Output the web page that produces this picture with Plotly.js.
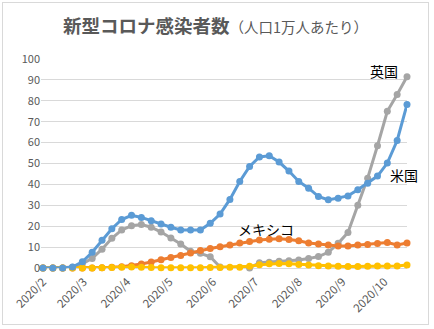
<!DOCTYPE html>
<html><head><meta charset="utf-8">
<script src="https://cdn.plot.ly/plotly-3.0.1.min.js"></script>
<style>
html,body{margin:0;padding:0;background:#fff;}
#wrap{position:relative;width:434px;height:329px;}
#chart{position:absolute;left:0;top:0;width:434px;height:329px;}
#frame{position:absolute;left:2px;top:2px;width:425px;height:321px;border:1px solid #D9D9D9;pointer-events:none;}
</style></head>
<body><div id="wrap"><div id="chart"></div><div id="frame"></div></div>
<script>
const dates = ["2020-02-01","2020-02-08","2020-02-15","2020-02-22","2020-02-29","2020-03-07","2020-03-14","2020-03-21","2020-03-28","2020-04-04","2020-04-11","2020-04-18","2020-04-25","2020-05-02","2020-05-09","2020-05-16","2020-05-23","2020-05-30","2020-06-06","2020-06-13","2020-06-20","2020-06-27","2020-07-04","2020-07-11","2020-07-18","2020-07-25","2020-08-01","2020-08-08","2020-08-15","2020-08-22","2020-08-29","2020-09-05","2020-09-12","2020-09-19","2020-09-26","2020-10-03","2020-10-10","2020-10-17"];
const usa = [0,0,0,0.5,3,7.5,13.3,18.8,23.2,25.2,24.2,22.6,21.1,19.5,18.2,18.2,18.2,21.4,25.8,32.8,41.4,48.6,53.1,53.7,50.7,46.4,41.4,38.2,34.2,32.6,33.4,34.5,37.4,40.5,44,50.2,61,78.2];
const uk = [0,0,0,0.3,2,4.6,9,14.2,18.2,20.2,20.8,19.5,17.2,14.3,11.5,8,7,5.4,0.5,-0.5,-0.3,0,2.5,2.8,3.2,3.5,3.8,4.5,5.5,7.5,11.8,17,30,43,58.5,75,83,91.5];
const mexico = [0,0,0,0,0,0,0.1,0.3,0.6,1.1,1.9,2.9,4,5,6,7.2,8.4,9.3,10.2,11,12,12.7,13.4,13.8,14,13.6,13,12,11.5,11,10.5,10.5,11,11.3,11.7,12.2,11,12];
const japan = [0,0,0,0,0,0,0.1,0.2,0.4,0.5,0.4,0.2,0.1,0.1,0.1,0.1,0.1,0.2,0.2,0.3,0.4,0.8,1.5,2,2.2,2,1.7,1.4,1.1,0.9,0.8,0.7,0.7,0.8,0.9,1,1,1.4];
const seriesNames = ["米国","英国","メキシコ","日本"];
const yTicks = [0,10,20,30,40,50,60,70,80,90,100];

const colors = ["#5B9BD5","#A5A5A5","#ED7D31","#FFC000"];
const allSeries = [usa, uk, mexico, japan];
const font = "'Noto Sans CJK JP', 'Noto Sans', sans-serif";

const traces = [];
[1,2,3,0].forEach(i => {
  traces.push({
    x: dates, y: allSeries[i], name: seriesNames[i], type: 'scatter', mode: 'lines+markers',
    line: {color: colors[i], width: 3},
    marker: {color: colors[i], size: 7},
    cliponaxis: false, hoverinfo: 'skip'
  });
});

const layout = {
  width: 434, height: 329,
  margin: {l: 41, r: 27, t: 59, b: 61},
  paper_bgcolor: '#fff', plot_bgcolor: '#fff',
  showlegend: false,
  font: {family: font, color: '#595959', size: 11},
  title: {
    text: '<b>新型コロナ感染者数</b><span style="font-size:14.5px;font-weight:normal">（人口1万人あたり）</span>',
    font: {family: font, size: 18.5, color: '#595959'},
    xref: 'container', yref: 'container', x: 63/434, xanchor: 'left', y: 1 - 27/329, yanchor: 'middle'
  },
  xaxis: {
    type: 'date',
    range: ['2020-01-30 14:00', '2020-10-17'],
    tick0: '2020-02-01', dtick: 'M1', tickformat: '%Y/%-m',
    tickangle: -45, showgrid: false, zeroline: false,
    showline: false, ticks: '', ticklabelstandoff: 4,
    tickfont: {family: font, size: 11.5, color: '#595959'}
  },
  yaxis: {
    range: [0, 100], tickvals: yTicks, ticktext: yTicks.map(String),
    showgrid: true, gridcolor: '#D9D9D9', gridwidth: 1,
    zeroline: true, zerolinecolor: '#D9D9D9', zerolinewidth: 1,
    showline: false, ticks: '', ticklen: 0,
    tickfont: {family: font, size: 11, color: '#595959'}
  },
  annotations: [
    {x: '2020-09-30 12:00', y: 94.4, text: seriesNames[1], showarrow: false, font: {family: font, size: 14, color: '#000'}},
    {x: '2020-10-15 02:00', y: 44.6, text: seriesNames[0], showarrow: false, font: {family: font, size: 14, color: '#000'}},
    {x: '2020-07-08 21:00', y: 18.8, text: seriesNames[2], showarrow: false, font: {family: font, size: 14, color: '#000'}},
    {x: '2020-10-20', y: -4.2, text: seriesNames[3], showarrow: false, font: {family: font, size: 14, color: '#000'}}
  ]
};

Plotly.newPlot('chart', traces, layout, {staticPlot: true, displayModeBar: false});
</script></body></html>
